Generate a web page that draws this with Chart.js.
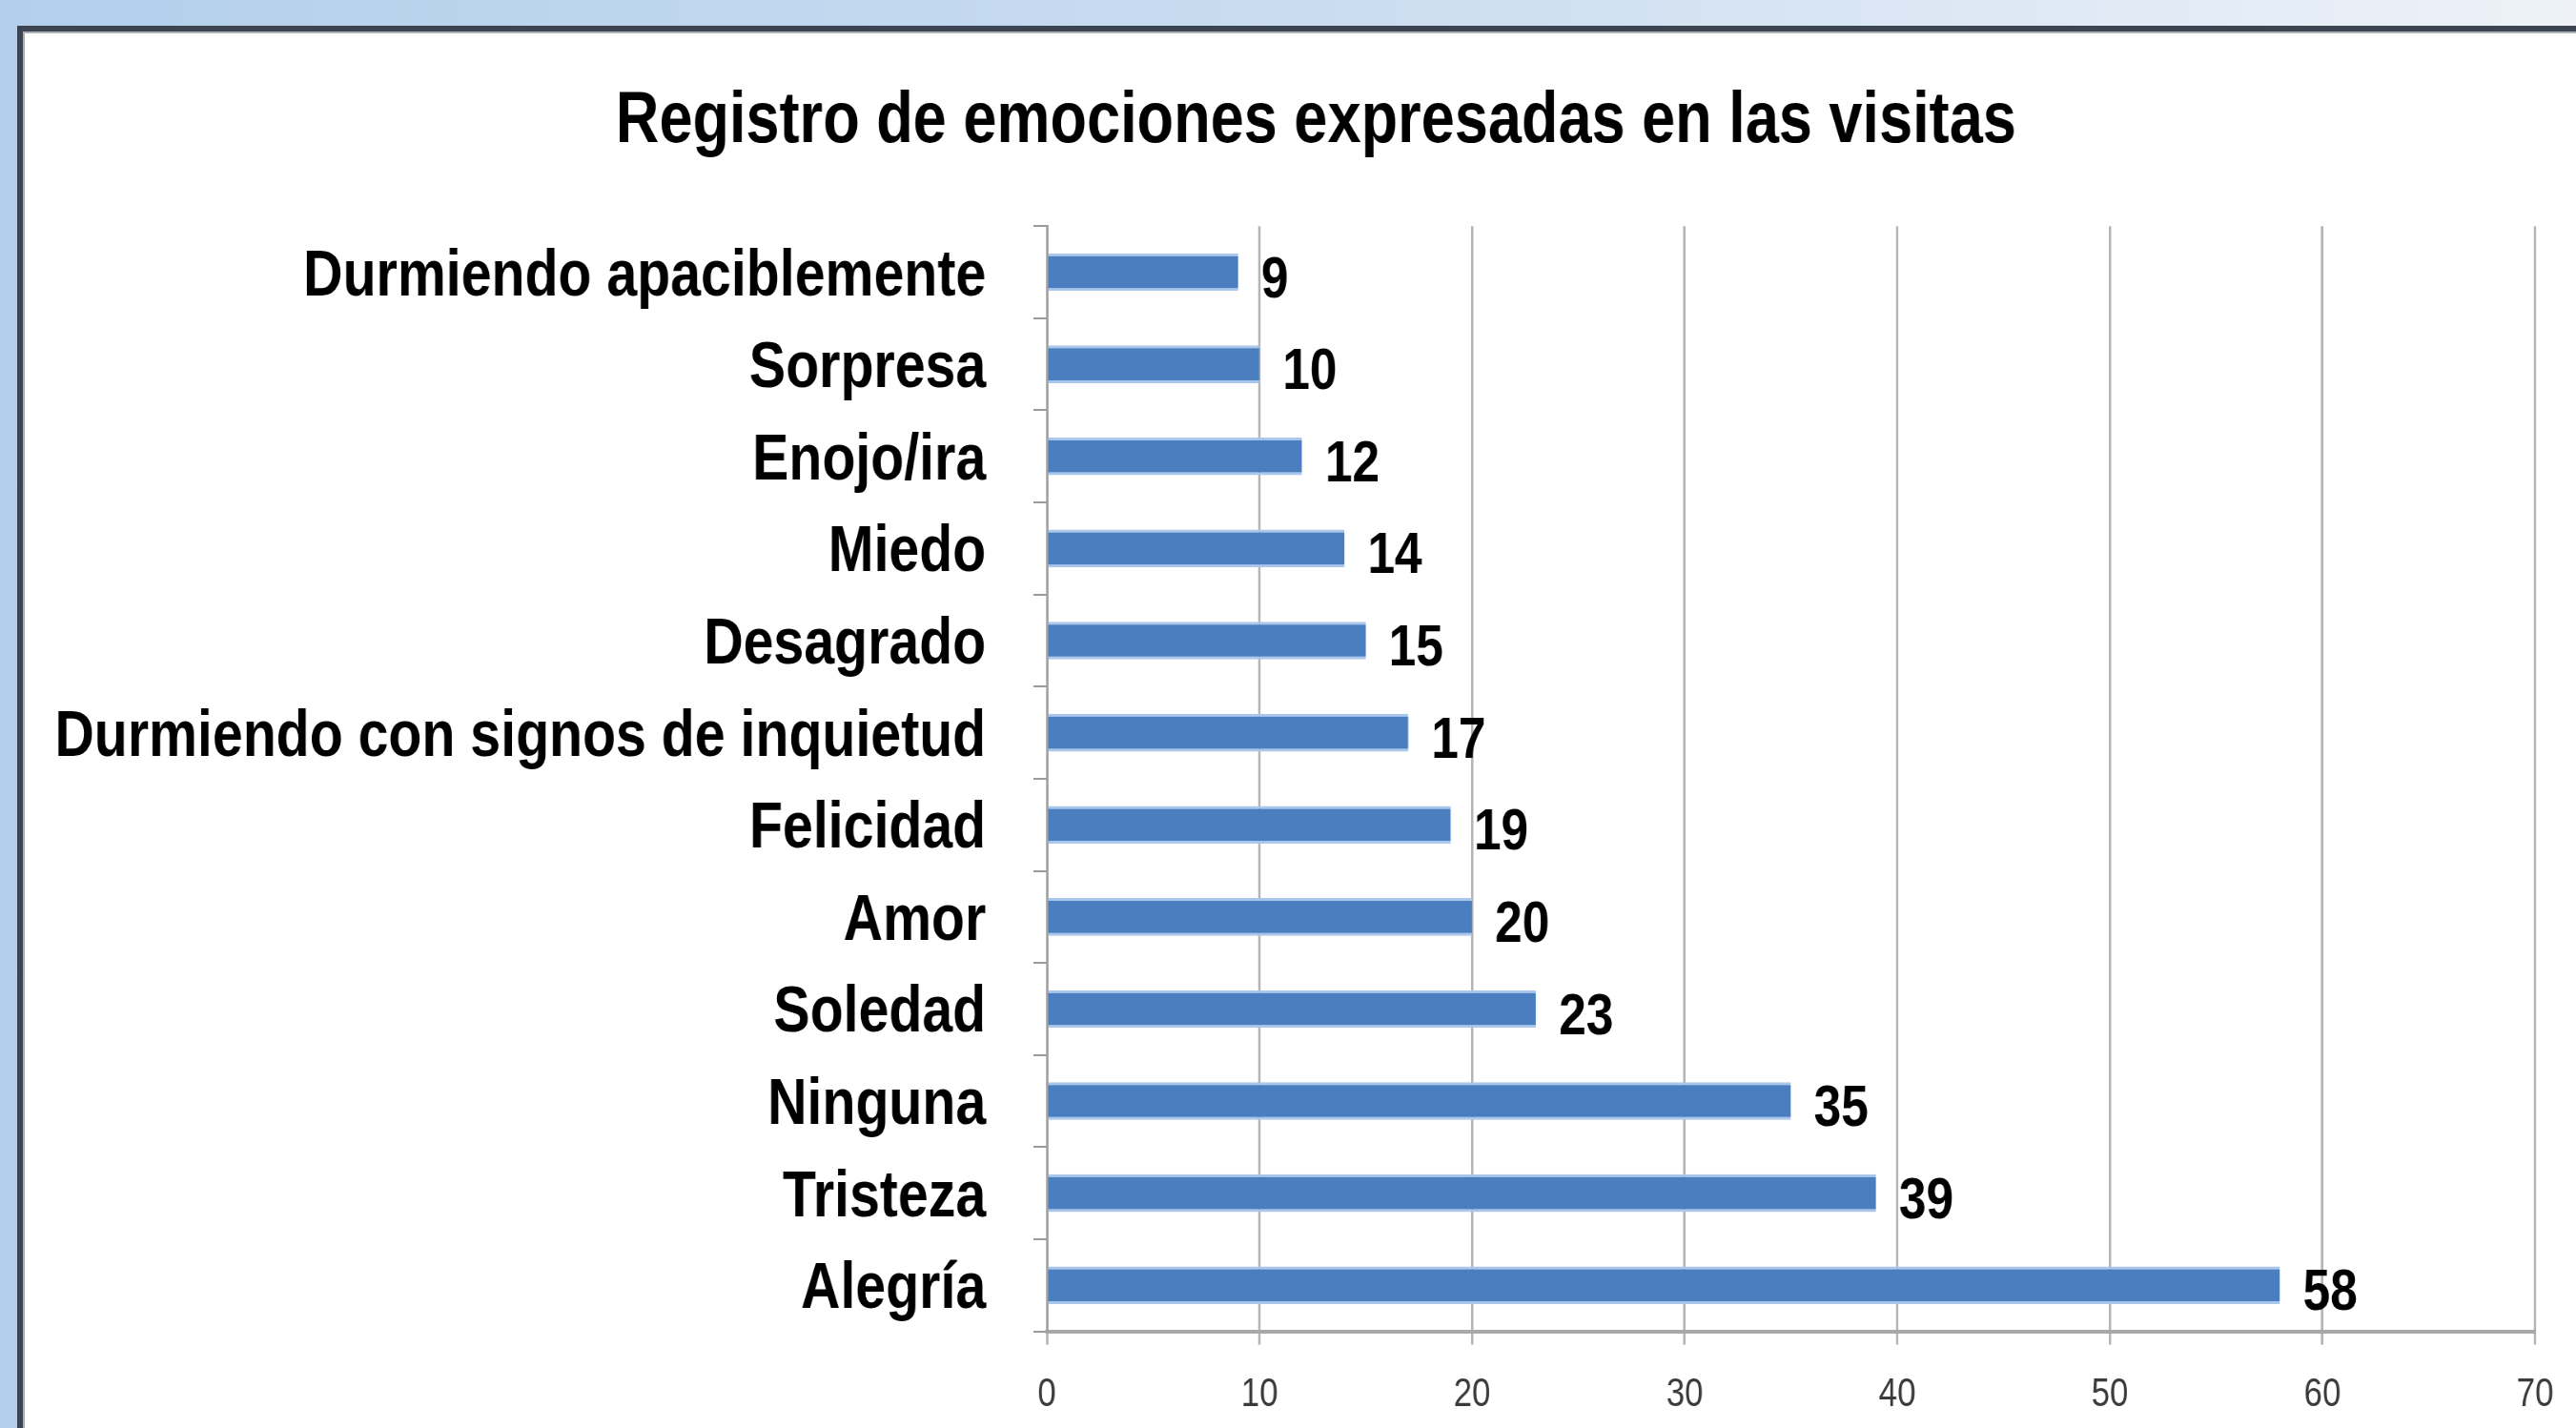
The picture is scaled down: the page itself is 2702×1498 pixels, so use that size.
<!DOCTYPE html>
<html lang="es">
  <head>
    <meta charset="UTF-8" />
    <title>Registro de emociones expresadas en las visitas</title>
    <script src="https://cdn.jsdelivr.net/npm/chart.js"></script>
    <style>
      html, body { margin: 0; padding: 0; }
      body {
        width: 2702px; height: 1498px; overflow: hidden; position: relative;
        background: linear-gradient(to right, #b3cfec 0%, #c9dcf0 50%, #eef2f8 100%);
      }
      #marco {
        position: absolute; left: 18px; top: 27px; right: -20px; bottom: -20px;
        background: #fff;
        border-left: 6px solid #3b4450; border-top: 6px solid #3b4450;
        box-shadow: inset 2px 2px 0 #aab0b8;
      }
      /* el texto del original esta comprimido en horizontal */
      #grafico { position: absolute; left: 0; top: 0; transform: scaleX(0.83); transform-origin: 0 0; }
    </style>
  </head>
  <body>
    <div id="marco"></div>
    <canvas id="grafico" width="3255" height="1498"></canvas>

    <script>
      // datos
      const emociones = [
        "Durmiendo apaciblemente", "Sorpresa", "Enojo/ira", "Miedo", "Desagrado",
        "Durmiendo con signos de inquietud", "Felicidad", "Amor", "Soledad",
        "Ninguna", "Tristeza", "Alegría"
      ];
      const registros = [9, 10, 12, 14, 15, 17, 19, 20, 23, 35, 39, 58];
      const ejeMin = 0;
      const ejeMax = 70;
      const paso = 10;

      const fuente = "'Liberation Sans', Arial, sans-serif";

      // etiquetas de valor a la derecha de cada barra
      const etiquetasValor = {
        id: "etiquetasValor",
        afterDatasetsDraw(chart) {
          const ctx = chart.ctx;
          const meta = chart.getDatasetMeta(0);
          ctx.save();
          ctx.font = "bold 62px " + fuente;
          ctx.fillStyle = "#000";
          ctx.textAlign = "left";
          ctx.textBaseline = "middle";
          meta.data.forEach((barra, i) => {
            ctx.fillText(String(registros[i]), barra.x + 29, barra.y + 9);
          });
          ctx.restore();
        }
      };

      // el titulo va algo a la derecha del centro del lienzo
      const moverTitulo = {
        id: "moverTitulo",
        afterLayout(chart) {
          if (chart.titleBlock) {
            chart.titleBlock.left += 27;
            chart.titleBlock.right += 27;
          }
        }
      };

      const ctx = document.getElementById("grafico").getContext("2d");

      new Chart(ctx, {
        type: "bar",
        data: {
          labels: emociones,
          datasets: [{
            data: registros,
            backgroundColor: "#4a7ebe",
            borderColor: "#a9c7ec",
            borderWidth: { top: 3, bottom: 3, left: 0, right: 0 },
            borderSkipped: false,
            categoryPercentage: 1,
            barPercentage: 0.41
          }]
        },
        options: {
          indexAxis: "y",
          responsive: false,
          animation: false,
          layout: { padding: { left: 60, right: 43, top: 0, bottom: 0 } },
          plugins: {
            legend: { display: false },
            tooltip: { enabled: false },
            title: {
              display: true,
              text: "Registro de emociones expresadas en las visitas",
              color: "#000",
              font: { family: fuente, size: 76, weight: "bold", lineHeight: 1.2 },
              padding: { top: 82, bottom: 64 }
            }
          },
          scales: {
            x: {
              min: ejeMin,
              max: ejeMax,
              ticks: {
                stepSize: paso,
                color: "#3a3a3a",
                font: { family: fuente, size: 42 },
                padding: 28
              },
              grid: { color: "#b4b4b4", lineWidth: 3, tickLength: 14 },
              border: { color: "#a8a8a8", width: 4 },
              afterFit(escala) { escala.height = 101; }
            },
            y: {
              ticks: {
                color: "#000",
                font: { family: fuente, size: 69, weight: "bold" },
                padding: 60,
                labelOffset: 5,
                autoSkip: false
              },
              grid: { drawOnChartArea: false, color: "#9a9a9a", lineWidth: 2, tickLength: 17 },
              border: { color: "#a0a0a0", width: 3 },
              afterFit(escala) { escala.width = 1263; }
            }
          }
        },
        plugins: [etiquetasValor, moverTitulo]
      });
    </script>
  </body>
</html>
